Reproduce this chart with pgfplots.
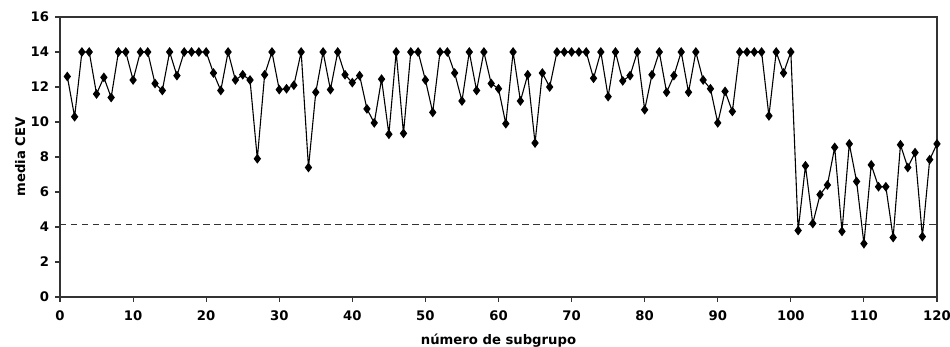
\documentclass[border=0pt]{standalone}
\usepackage{fontspec}
\setmainfont{DejaVu Sans}
\usepackage{pgfplots}
\pgfplotsset{compat=1.18}
\begin{document}
\begin{tikzpicture}
\begin{axis}[
  scale only axis,
  width=877bp, height=280bp,
  xmin=0, xmax=120, ymin=0, ymax=16,
  xtick={0,10,...,120}, ytick={0,2,...,16},
  xtick pos=left, ytick pos=left,
  tick align=outside,
  major tick length=4.5bp,
  axis line style={line width=1.3bp, black!80},
  every tick/.style={line width=1.1bp, black!80},
  /pgf/number format/assume math mode=true,
  ticklabel style={font=\fontsize{13.2bp}{15bp}\selectfont\bfseries},
  xticklabel style={yshift=-6bp},
  yticklabel style={xshift=-3bp},
  label style={font=\fontsize{13.2bp}{15bp}\selectfont\bfseries},
  xlabel={número de subgrupo},
  ylabel={media CEV},
  xlabel style={at={(axis description cs:0.5,-0.1714)}, anchor=base},
  ylabel style={at={(axis description cs:-0.0399,0.5)}, anchor=base},
  clip=false,
]
\addplot[black!80, line width=1.3bp, dash pattern=on 6.5bp off 4.5bp, forget plot] coordinates {(0,4.15) (120,4.15)};
\addplot[black, line width=1.1bp, mark=diamond*, mark size=4bp, mark options={solid, fill=black}] coordinates {
(1,12.6) (2,10.3) (3,14) (4,14) (5,11.6) (6,12.55) (7,11.4) (8,14) (9,14) (10,12.4)
(11,14) (12,14) (13,12.2) (14,11.8) (15,14) (16,12.65) (17,14) (18,14) (19,14) (20,14)
(21,12.8) (22,11.8) (23,14) (24,12.4) (25,12.7) (26,12.4) (27,7.9) (28,12.7) (29,14) (30,11.85)
(31,11.9) (32,12.1) (33,14) (34,7.4) (35,11.7) (36,14) (37,11.85) (38,14) (39,12.7) (40,12.25)
(41,12.65) (42,10.75) (43,9.95) (44,12.45) (45,9.3) (46,14) (47,9.35) (48,14) (49,14) (50,12.4)
(51,10.55) (52,14) (53,14) (54,12.8) (55,11.2) (56,14) (57,11.8) (58,14) (59,12.2) (60,11.9)
(61,9.9) (62,14) (63,11.2) (64,12.7) (65,8.8) (66,12.8) (67,12.0) (68,14) (69,14) (70,14)
(71,14) (72,14) (73,12.5) (74,14) (75,11.45) (76,14) (77,12.35) (78,12.65) (79,14) (80,10.7)
(81,12.7) (82,14) (83,11.7) (84,12.65) (85,14) (86,11.7) (87,14) (88,12.4) (89,11.9) (90,9.95)
(91,11.75) (92,10.6) (93,14) (94,14) (95,14) (96,14) (97,10.35) (98,14) (99,12.8) (100,14)
(101,3.8) (102,7.5) (103,4.2) (104,5.85) (105,6.4) (106,8.55) (107,3.75) (108,8.75) (109,6.6) (110,3.05)
(111,7.55) (112,6.3) (113,6.3) (114,3.4) (115,8.7) (116,7.4) (117,8.25) (118,3.45) (119,7.85) (120,8.75)
};
\end{axis}
\path (current axis.south west) ++(-60bp,-50bp) coordinate (bbA);
\path (current axis.north east) ++(13bp,17bp) coordinate (bbB);
\pgfresetboundingbox
\path[use as bounding box] (bbA) rectangle (bbB);
\end{tikzpicture}
\end{document}
